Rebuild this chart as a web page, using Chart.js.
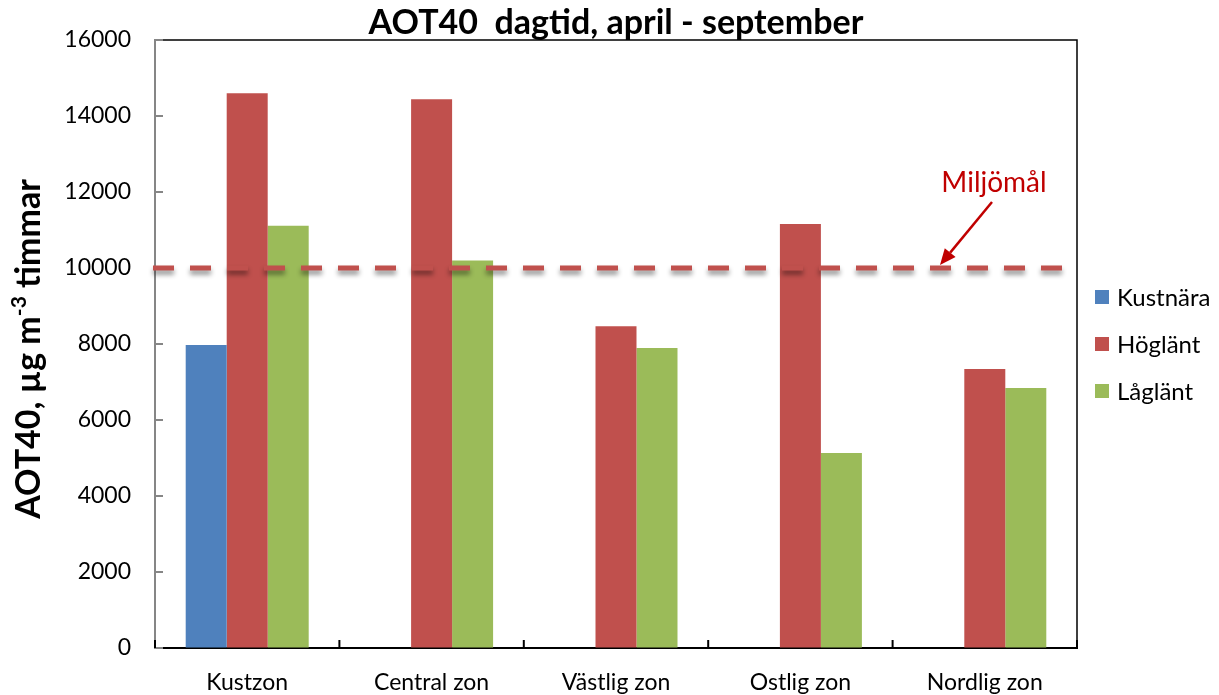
<!DOCTYPE html>
<html>
<head>
<meta charset="utf-8">
<script src="https://cdn.jsdelivr.net/npm/chart.js@4.4.1/dist/chart.umd.min.js"></script>
<style>
    html, body { margin: 0; padding: 0; background: #fff; }
    #wrap { width: 1219px; height: 695px; }
</style>
</head>
<body>
<div id="wrap"><canvas id="aot40"></canvas></div>
<script>
// data
const zones = ["Kustzon", "Central zon", "Västlig zon", "Ostlig zon", "Nordlig zon"];
const kustnara = [7975, null, null, null, null];
const hoglant = [14600, 14440, 8470, 11160, 7340];
const laglant = [11115, 10200, 7895, 5130, 6840];
const yTicks = [0, 2000, 4000, 6000, 8000, 10000, 12000, 14000, 16000];
const miljomal = 10000;

const FONT = "Lato, 'Open Sans', sans-serif";

// inward tick marks, top/right frame, target line, arrow note, y title, legend
const decor = {
    id: "decor",
    beforeDatasetsDraw(chart) {
        const { ctx, chartArea: a, scales } = chart;
        ctx.save();
        // frame top + right
        ctx.strokeStyle = "#000";
        ctx.lineWidth = 1.5;
        ctx.beginPath();
        ctx.moveTo(a.left, a.top);
        ctx.lineTo(a.right, a.top);
        ctx.lineTo(a.right, a.bottom);
        ctx.stroke();
        // y ticks, inside
        ctx.strokeStyle = "#868686";
        ctx.lineWidth = 2;
        yTicks.forEach((v) => {
            const y = scales.y.getPixelForValue(v);
            ctx.beginPath();
            ctx.moveTo(a.left, y);
            ctx.lineTo(a.left + 8, y);
            ctx.stroke();
        });
        // x ticks between categories
        ctx.strokeStyle = "#000";
        const w = (a.right - a.left) / zones.length;
        for (let i = 0; i <= zones.length; i++) {
            const x = a.left + i * w;
            ctx.beginPath();
            ctx.moveTo(x, a.bottom);
            ctx.lineTo(x, a.bottom - 8);
            ctx.stroke();
        }
        ctx.restore();
    },
    afterDatasetsDraw(chart) {
        const { ctx, chartArea: a, scales } = chart;
        const y = scales.y.getPixelForValue(miljomal);
        ctx.save();
        // dashed target line with soft shadow
        ctx.strokeStyle = "#C0504D";
        ctx.lineWidth = 5;
        ctx.setLineDash([21, 16]);
        ctx.shadowColor = "rgba(0,0,0,0.45)";
        ctx.shadowBlur = 5;
        ctx.shadowOffsetY = 4;
        ctx.beginPath();
        ctx.moveTo(a.left - 2, y);
        ctx.lineTo(a.right - 4, y);
        ctx.stroke();
        ctx.restore();

        // "Miljömål" note with arrow
        ctx.save();
        const tipX = a.right - 137;
        const tipY = y - 3;
        const tailX = a.right - 85;
        const tailY = y - 66;
        ctx.strokeStyle = "#C00000";
        ctx.fillStyle = "#C00000";
        ctx.lineWidth = 2.5;
        const ang = Math.atan2(tipY - tailY, tipX - tailX);
        const hl = 16, hw = 7;
        const bx = tipX - hl * Math.cos(ang), by = tipY - hl * Math.sin(ang);
        ctx.beginPath();
        ctx.moveTo(tailX, tailY);
        ctx.lineTo(bx, by);
        ctx.stroke();
        ctx.beginPath();
        ctx.moveTo(tipX, tipY);
        ctx.lineTo(bx + hw * Math.sin(ang), by - hw * Math.cos(ang));
        ctx.lineTo(bx - hw * Math.sin(ang), by + hw * Math.cos(ang));
        ctx.closePath();
        ctx.fill();
        ctx.font = "28px " + FONT;
        ctx.textAlign = "center";
        ctx.textBaseline = "alphabetic";
        ctx.fillText("Miljömål", a.right - 83, y - 76);
        ctx.restore();
    },
    afterDraw(chart) {
        const { ctx, chartArea: a } = chart;
        ctx.save();
        // y axis title with superscript
        const big = "bold 34px " + FONT;
        const small = "bold 21px " + FONT;
        const p1 = "AOT40, µg m";
        const p2 = "-3";
        const p3 = " timmar";
        ctx.font = big;
        const w1 = ctx.measureText(p1).width;
        const w3 = ctx.measureText(p3).width;
        ctx.font = small;
        const w2 = ctx.measureText(p2).width;
        const total = w1 + w2 + w3;
        ctx.translate(40, (a.top + a.bottom) / 2 + 5);
        ctx.rotate(-Math.PI / 2);
        ctx.fillStyle = "#000";
        ctx.textBaseline = "alphabetic";
        ctx.textAlign = "left";
        let x = -total / 2;
        ctx.font = big;
        ctx.fillText(p1, x, 0);
        x += w1;
        ctx.font = small;
        ctx.fillText(p2, x, -14);
        x += w2;
        ctx.font = big;
        ctx.fillText(p3, x, 0);
        ctx.restore();

        // legend
        ctx.save();
        ctx.font = "24px " + FONT;
        ctx.textBaseline = "middle";
        ctx.textAlign = "left";
        const cy = (a.top + a.bottom) / 2;
        chart.data.datasets.forEach((ds, i) => {
            const iy = cy - 47 + i * 47;
            ctx.fillStyle = ds.backgroundColor;
            ctx.fillRect(1095, iy - 7, 14, 14);
            ctx.fillStyle = "#000";
            ctx.fillText(ds.label, 1117, iy + 1);
        });
        ctx.restore();
    },
};

new Chart(document.getElementById("aot40"), {
    type: "bar",
    data: {
        labels: zones,
        datasets: [
            { label: "Kustnära", data: kustnara, backgroundColor: "#4F81BD" },
            { label: "Höglänt", data: hoglant, backgroundColor: "#C0504D" },
            { label: "Låglänt", data: laglant, backgroundColor: "#9BBB59" },
        ],
    },
    options: {
        responsive: true,
        maintainAspectRatio: false,
        animation: false,
        datasets: {
            bar: {
                categoryPercentage: 0.667,
                barPercentage: 1.0,
            },
        },
        layout: {
            padding: { left: 60, right: 142, top: 0, bottom: 0 },
        },
        scales: {
            x: {
                afterFit: (scale) => { scale.height = 47; },
                grid: { display: false, offset: true },
                border: { color: "#000", width: 2 },
                ticks: {
                    color: "#000",
                    padding: 13,
                    font: { family: FONT, size: 23 },
                    maxRotation: 0,
                },
            },
            y: {
                min: 0,
                max: 16000,
                afterFit: (scale) => { scale.width = 95; },
                afterBuildTicks: (scale) => {
                    scale.ticks = yTicks.map((v) => ({ value: v }));
                },
                grid: { drawOnChartArea: false, drawTicks: false },
                border: { color: "#868686", width: 2 },
                ticks: {
                    color: "#000",
                    padding: 24,
                    font: { family: FONT, size: 23 },
                    callback: (v) => String(v),
                },
            },
        },
        plugins: {
            legend: { display: false },
            tooltip: { enabled: false },
            title: {
                display: true,
                fullSize: false,
                text: "AOT40  dagtid, april - september",
                color: "#000",
                font: { family: FONT, size: 34, weight: "bold", lineHeight: 1.0 },
                padding: { top: 6, bottom: 0 },
            },
        },
    },
    plugins: [decor],
});
</script>
</body>
</html>
